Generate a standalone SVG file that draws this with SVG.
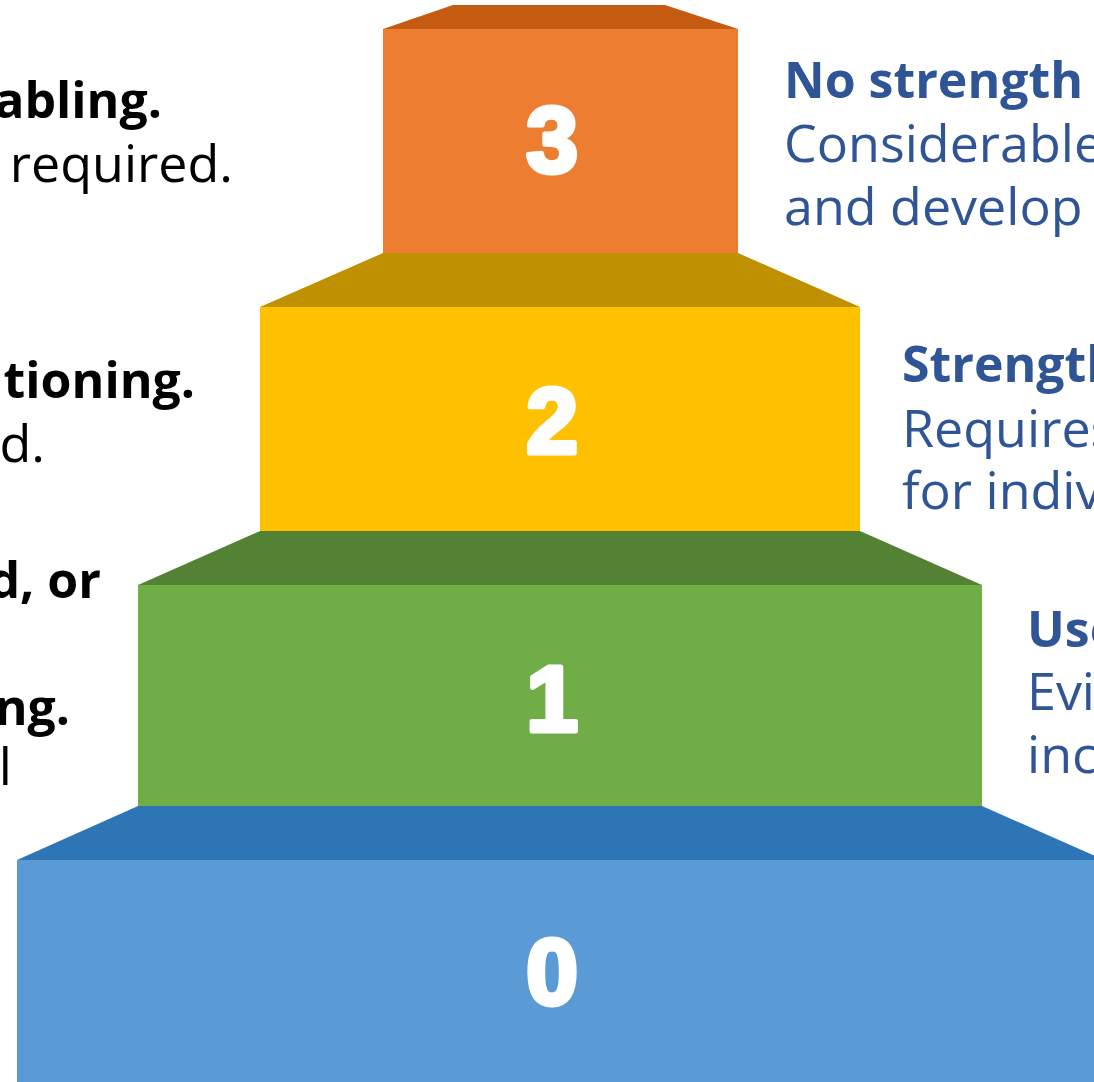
<svg xmlns="http://www.w3.org/2000/svg" width="1094" height="1082" viewBox="0 0 1094 1082">
<style>
.num{font-family:"Liberation Sans",Arial,sans-serif;font-weight:bold;font-size:93px;fill:#fff;stroke:#fff;stroke-width:5;stroke-linejoin:round;text-anchor:middle}
.lb{font-family:"Open Sans","Liberation Sans",sans-serif;font-weight:bold;font-size:50px;fill:#000;text-anchor:end}
.lr{font-family:"Open Sans","Liberation Sans",sans-serif;font-size:52px;fill:#000;text-anchor:end}
.rb{font-family:"Open Sans","Liberation Sans",sans-serif;font-weight:bold;font-size:50px;fill:#2F5597}
.rr{font-family:"Open Sans","Liberation Sans",sans-serif;font-size:52px;fill:#2F5597}
</style>
<rect width="1094" height="1082" fill="#fff"/>
<g id="level0">
<polygon points="138,806 982,806 1104,860 17,860" fill="#2E75B6"/>
<rect x="17" y="860" width="1090" height="222" fill="#5B9BD5"/>
<text class="num" x="552" y="1004">0</text>
</g>
<g id="level1">
<polygon points="260,531 860,531 982,585 138,585" fill="#548235"/>
<rect x="138" y="585" width="844" height="221" fill="#70AD47"/>
<text class="num" x="552" y="731">1</text>
</g>
<g id="level2">
<polygon points="383,253 738,253 860,307 260,307" fill="#BF9000"/>
<rect x="260" y="307" width="600" height="224" fill="#FFC000"/>
<text class="num" x="552" y="453">2</text>
</g>
<g id="level3">
<polygon points="453,5 665,5 738,29 383,29" fill="#C55A11"/>
<rect x="383" y="29" width="355" height="224" fill="#ED7D31"/>
<text class="num" x="552" y="172">3</text>
</g>
<g id="left-text">
<text class="lb" x="162" y="118">abling.</text>
<text class="lr" x="233" y="182">required.</text>
<text class="lb" x="195" y="398">tioning.</text>
<text class="lr" x="45" y="462">d.</text>
<text class="lb" x="101" y="598">d, or</text>
<text class="lb" x="70" y="725">ng.</text>
<text class="lr" x="12" y="785">l</text>
</g>
<g id="right-text">
<text class="rb" x="784" y="98">No strength</text>
<text class="rr" x="784" y="162">Considerable</text>
<text class="rr" x="784" y="225">and develop</text>
<text class="rb" x="902" y="382">Strength</text>
<text class="rr" x="902" y="447">Requires</text>
<text class="rr" x="902" y="509">for individ</text>
<text class="rb" x="1027" y="647">Use</text>
<text class="rr" x="1027" y="710">Evi</text>
<text class="rr" x="1027" y="773">inc</text>
</g>
<g id="connectors"/>
</svg>
